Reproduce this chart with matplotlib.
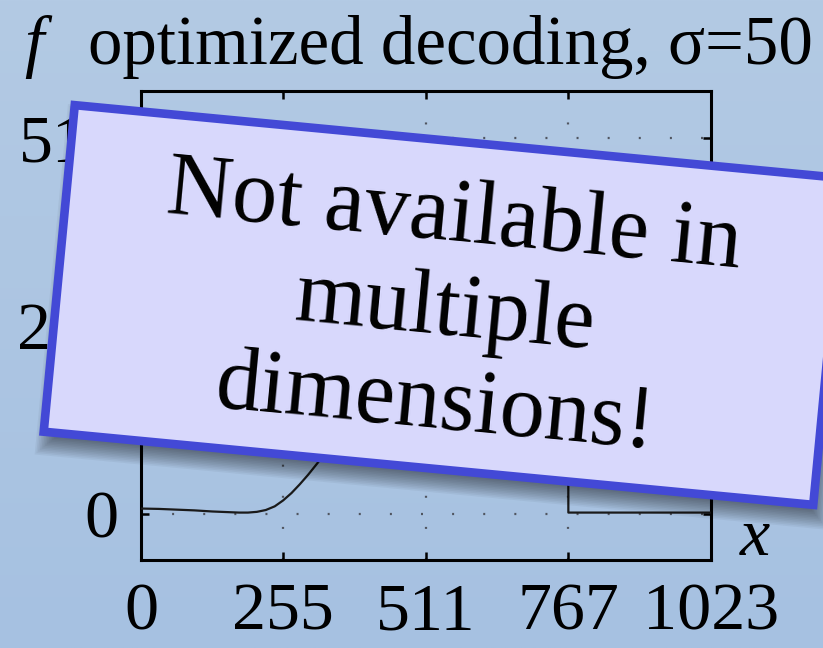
import numpy as np
import matplotlib
matplotlib.use("Agg")
import matplotlib.pyplot as plt
from matplotlib.patches import Rectangle

# ---- data -------------------------------------------------------------
x_input = [0, 32, 64, 96, 128, 160, 176, 192, 208, 224, 240, 255, 270, 285,
           300, 318, 340, 370, 400, 430, 460, 490, 520, 550, 580, 610, 640,
           670, 700, 730, 766, 767, 800, 850, 900, 950, 1000, 1023]
f_output = [7, 6.5, 5.5, 4.5, 3, 2, 1.5, 1.5, 2.5, 5, 10, 18, 28, 40,
            53, 70, 92, 125, 160, 195, 230, 263, 295, 325, 352, 377, 398,
            416, 430, 440, 447, 1.5, 1.5, 1.5, 1.5, 1.5, 1.5, 1.5]
x_ticks = [0, 255, 511, 767, 1023]
y_ticks = [0, 255, 511]
x_grid = [255, 511, 767]
y_grid = [0, 511]

title_text = "optimized decoding, \u03c3=50"
notice_text = "Not available in\nmultiple\ndimensions!"

W, H = 823, 648
SERIF = "Liberation Serif"

fig = plt.figure(figsize=(W / 100, H / 100), dpi=100)

# ---- slide background gradient ----------------------------------------
bg = fig.add_axes([0, 0, 1, 1], zorder=-10)
top = np.array([0xB3, 0xCA, 0xE4]) / 255
bot = np.array([0xA6, 0xC1, 0xE1]) / 255
t = np.linspace(0, 1, 256)[:, None, None]
grad = top * (1 - t) + bot * t
grad = np.repeat(grad, 4, axis=1)
bg.imshow(grad, aspect="auto", extent=[0, 1, 0, 1])
bg.set_axis_off()

# ---- plot -------------------------------------------------------------
ax = fig.add_axes([141 / W, 1 - 560 / H, 570 / W, 469 / H], zorder=1)
ax.set_facecolor("none")
ax.set_xlim(0, 1023)
ax.set_ylim(-63, 575)

for gx in x_grid:
    ax.axvline(gx, color="#505560", lw=1.6, ls=(0, (0.9, 13.1)), zorder=1)
for gy in y_grid:
    ax.axhline(gy, color="#505560", lw=1.6, ls=(0, (0.9, 13.1)), zorder=1)

ax.plot(x_input, f_output, color="#1a1a1a", lw=1.6, zorder=3)

ax.set_xticks(x_ticks)
ax.set_xticklabels([str(v) for v in x_ticks])
ax.set_yticks(y_ticks)
ax.set_yticklabels([str(v) for v in y_ticks])
ax.tick_params(axis="both", direction="in", length=6, width=1.8,
               top=True, right=True, labelsize=49,
               labelfontfamily=SERIF, colors="black")
ax.tick_params(axis="x", pad=16)
ax.tick_params(axis="y", pad=16)
for s in ax.spines.values():
    s.set_linewidth(2.2)
    s.set_color("black")

# axis letters and title
fig.text(24 / W, 1 - 64 / H, "f", fontsize=50, family=SERIF,
         style="italic", ha="left", va="baseline")
fig.text(88 / W, 1 - 64 / H, title_text, fontsize=49.6, family=SERIF,
         ha="left", va="baseline")
fig.text(740 / W, 1 - 555 / H, "x", fontsize=49, family=SERIF,
         style="italic", ha="left", va="baseline")

# ---- overlay notice box -----------------------------------------------
ov = fig.add_axes([0, 0, 1, 1], zorder=10)
ov.set_xlim(0, W)
ov.set_ylim(0, H)
ov.set_axis_off()
ov.patch.set_alpha(0)

angle = -5.43
cx, cy = 444, H - 305
bw, bh = 773, 328

# soft drop shadow built from stacked translucent rectangles
n_sh = 16
blur = 12
sx, sy = cx + 4, cy - 12
for k in range(n_sh):
    grow = blur * (1 - 2 * k / (n_sh - 1))
    ov.add_patch(Rectangle((sx - bw / 2 - grow, sy - bh / 2 - grow),
                           bw + 2 * grow, bh + 2 * grow,
                           angle=angle, rotation_point="center",
                           facecolor="black", edgecolor="none",
                           alpha=0.045, zorder=1))

ov.add_patch(Rectangle((cx - bw / 2, cy - bh / 2), bw, bh,
                       angle=angle, rotation_point="center",
                       facecolor="#D8D8FC", edgecolor="#4349D6",
                       lw=6.2, joinstyle="miter", zorder=2))

ov.text(445, H - 312, notice_text, fontsize=65, family=SERIF,
        rotation=angle, rotation_mode="anchor", ha="center", va="center",
        multialignment="center", linespacing=1.19, color="black", zorder=3)

fig.savefig("out.png", dpi=100)
